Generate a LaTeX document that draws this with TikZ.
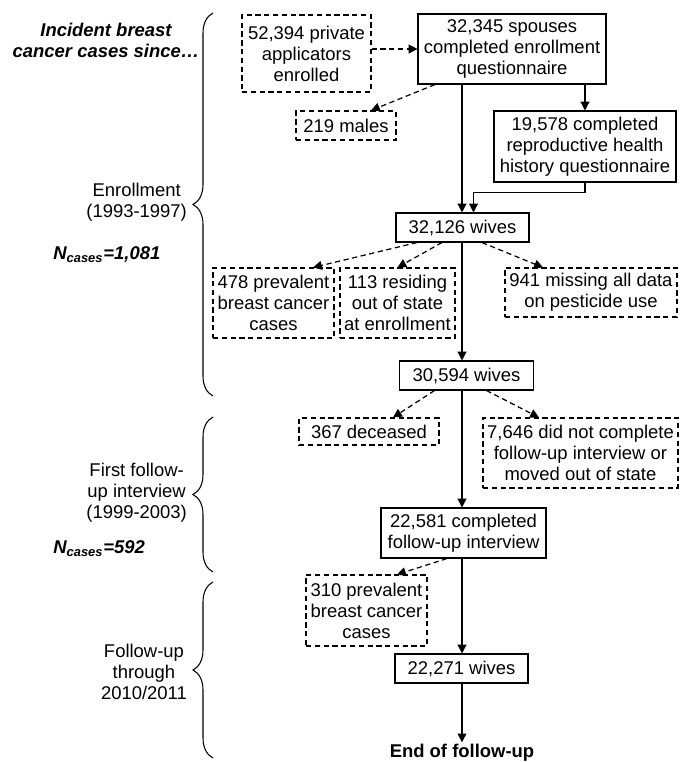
\documentclass[tikz,border=0pt]{standalone}
\usepackage{fontspec}
\setmainfont{Liberation Sans}
\usetikzlibrary{arrows.meta,positioning,calc,decorations.pathreplacing}

\tikzset{
  keptbox/.style={draw,line width=0.6pt,align=center,inner sep=2pt,
                  font=\fontsize{10.5}{12}\selectfont},
  dropbox/.style={keptbox,dash pattern=on 3pt off 2pt},
  flow/.style={-{Triangle[length=5pt,width=5pt]},line width=0.7pt},
  dropflow/.style={flow,dash pattern=on 3pt off 2pt},
  stagebrace/.style={decorate,decoration={brace,amplitude=0.4cm},line width=0.6pt},
  stagelabel/.style={align=center,anchor=east,inner sep=1pt,
                     font=\fontsize{10.5}{12}\selectfont},
  ncases/.style={anchor=west,inner sep=0pt,font=\fontsize{10.5}{12}\selectfont\bfseries\itshape}
}

\begin{document}
\begin{tikzpicture}[x=0.02cm,y=-0.02cm]
  \useasboundingbox (0,0) rectangle (684,762);
  \coordinate (spine) at (462,0);
  %% Enrollment
  \node[dropbox,minimum width=2.58cm,minimum height=1.54cm]
        (applic) at (306.5,53.5) {52,394 private\\applicators\\enrolled};
  \node[keptbox,minimum width=3.76cm,minimum height=1.40cm]
        (spouses) at (512,49) {32,345 spouses\\completed enrollment\\questionnaire};
  \node[dropbox,minimum width=2.0cm,minimum height=0.58cm]
        (males) at (346,125.5) {219 males};
  \node[keptbox,minimum width=3.64cm,minimum height=1.42cm]
        (rhh) at (585,146.5) {19,578 completed\\reproductive health\\history questionnaire};
  \node[keptbox,minimum width=2.66cm,minimum height=0.58cm]
        (wivesA) at (462.5,227.5) {32,126 wives};
  \node[dropbox,minimum width=2.42cm,minimum height=1.40cm]
        (prevA) at (273.5,303) {478 prevalent\\breast cancer\\cases};
  \node[dropbox,minimum width=2.30cm,minimum height=1.40cm]
        (resid) at (397.5,303) {113 residing\\out of state\\at enrollment};
  \node[dropbox,minimum width=3.44cm,minimum height=0.98cm]
        (nodata) at (591,292.5) {941 missing all data\\on pesticide use};
  \node[keptbox,minimum width=2.68cm,minimum height=0.58cm]
        (wivesB) at (466.5,375.5) {30,594 wives};
  %% First follow-up
  \node[dropbox,minimum width=2.80cm,minimum height=0.54cm]
        (dead) at (369,431.5) {367 deceased};
  \node[dropbox,minimum width=3.90cm,minimum height=1.40cm]
        (lost) at (580.5,453) {7,646 did not complete\\follow-up interview or\\moved out of state};
  \node[keptbox,minimum width=3.30cm,minimum height=1.00cm]
        (fuint) at (463.5,533) {22,581 completed\\follow-up interview};
  %% Later follow-up
  \node[dropbox,minimum width=2.42cm,minimum height=1.42cm]
        (prevB) at (366.5,610.5) {310 prevalent\\breast cancer\\cases};
  \node[keptbox,minimum width=2.66cm,minimum height=0.58cm]
        (wivesC) at (461.5,668.5) {22,271 wives};
  \node[inner sep=1pt,font=\fontsize{10.5}{12}\selectfont\bfseries]
        (endfu) at (462,753) {End of follow-up};

  \draw[dropflow] (applic.east |- spouses) -- (spouses.west);
  \draw[dropflow] ($(spouses.south)+(-77,0)$) -- ($(males.north)+(25,0)$);
  \draw[flow] (rhh.north |- spouses.south) -- (rhh.north);
  \draw[flow] (spouses.south -| spine) -- (wivesA.north -| spine);
  \draw[flow] (rhh.south) -- ++(0,10) -| ($(wivesA.north)+(11,0)$);
  \draw[dropflow] ($(wivesA.south)+(-45.5,0)$) -- ($(prevA.north)+(39.5,0)$);
  \draw[dropflow] ($(wivesA.south)+(-20.5,0)$) -- (resid.north);
  \draw[dropflow] ($(wivesA.south)+(19.5,0)$) -- ($(nodata.north)+(-48,0)$);
  \draw[flow] (wivesA.south -| spine) -- (wivesB.north -| spine);
  \draw[dropflow] ($(wivesB.south)+(-32,0)$) -- ($(dead.north)+(24,0)$);
  \draw[dropflow] ($(wivesB.south)+(20,0)$) -- ($(lost.north)+(-41.5,0)$);
  \draw[flow] (wivesB.south -| spine) -- (fuint.north -| spine);
  \draw[dropflow] ($(fuint.south)+(-16.5,0)$) -- ($(prevB.north)+(30.5,0)$);
  \draw[flow] (fuint.south -| spine) -- (wivesC.north -| spine);
  \draw[flow] (wivesC.south -| spine) -- (endfu.north -| spine);

  %% Stage braces and labels
  \draw[stagebrace] (213,396) -- (213,13);
  \draw[stagebrace] (213,572) -- (213,417);
  \draw[stagebrace] (213,758) -- (213,582);
  \node[align=center,inner sep=0pt,font=\fontsize{10.5}{12}\selectfont\bfseries\itshape]
        (incident) at (106,40) {Incident breast\\cancer cases since…};
  \node[stagelabel] (enrol) at (189,202) {Enrollment\\(1993-1997)};
  \node[ncases] (nenrol) at (53,255) {N\textsubscript{cases}=1,081};
  \node[stagelabel] (first) at (189,493) {First follow-\\up interview\\(1999-2003)};
  \node[ncases] (nfirst) at (53,549) {N\textsubscript{cases}=592};
  \node[stagelabel] (later) at (189,672) {Follow-up\\through\\2010/2011};
\end{tikzpicture}
\end{document}
